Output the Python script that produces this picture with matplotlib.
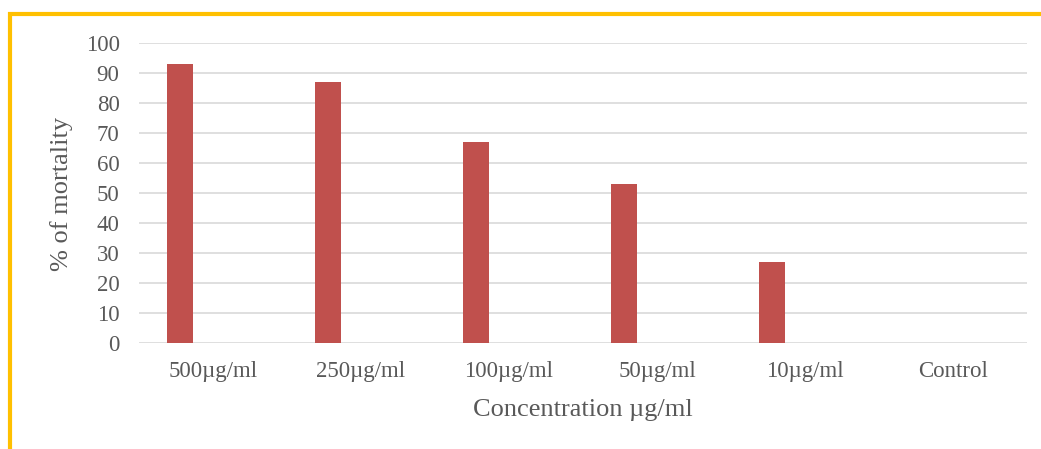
import matplotlib
matplotlib.use("Agg")
import matplotlib.pyplot as plt
from matplotlib.lines import Line2D
import numpy as np

categories = ["500µg/ml", "250µg/ml", "100µg/ml", "50µg/ml", "10µg/ml", "Control"]
mortality = [93, 87, 67, 53, 27, 0]
yticks = [0, 10, 20, 30, 40, 50, 60, 70, 80, 90, 100]

W, H = 1041, 449
fig = plt.figure(figsize=(W / 100, H / 100), dpi=100)
ax = fig.add_axes([139 / W, 1 - 343 / H, (1027 - 139) / W, 300 / H])

plt.rcParams["font.family"] = ["Liberation Serif"]
x = np.arange(len(categories))
ax.bar(x - 0.223, mortality, width=0.176, color="#C0504D", zorder=3)

ax.set_xlim(-0.5, len(categories) - 0.5)
ax.set_ylim(0, 100)
ax.set_yticks(yticks)
ax.set_xticks(x)
ax.set_xticklabels(categories)
ax.grid(axis="y", color="#D9D9D9", linewidth=1.2, zorder=0)
for s in ["top", "right", "left", "bottom"]:
    ax.spines[s].set_visible(False)
ax.tick_params(length=0, labelsize=16.5, labelcolor="#595959")
ax.tick_params(axis="y", pad=14)
ax.tick_params(axis="x", pad=13)
for lab in ax.get_xticklabels() + ax.get_yticklabels():
    lab.set_family("Liberation Serif")

fig.text(62 / W, 1 - 194 / H, "% of mortality", rotation=90, ha="center", va="center",
         fontsize=19, color="#595959", family="Liberation Serif")
fig.text(583 / W, 1 - 410 / H, "Concentration µg/ml", ha="center", va="center",
         fontsize=19, color="#595959", family="Liberation Serif")

gold = "#FFC000"
fig.add_artist(Line2D([8 / W, 1.0], [1 - 14 / H, 1 - 14 / H], color=gold, linewidth=3,
                      transform=fig.transFigure, solid_capstyle="butt"))
fig.add_artist(Line2D([10 / W, 10 / W], [0, 1 - 12 / H], color=gold, linewidth=3,
                      transform=fig.transFigure, solid_capstyle="butt"))

fig.savefig("out.png", dpi=100)
